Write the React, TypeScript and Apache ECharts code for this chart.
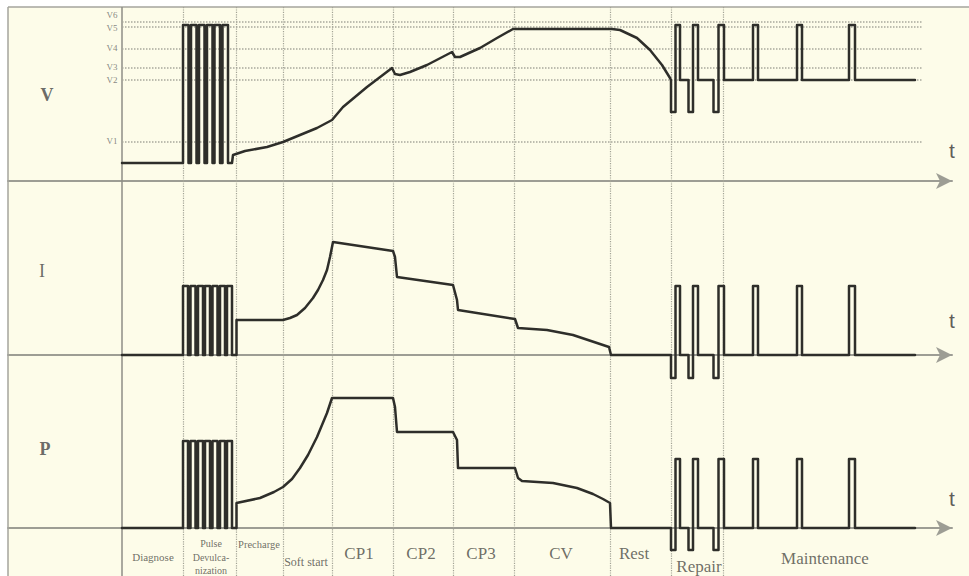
import React, { useEffect, useRef } from 'react';
import * as echarts from 'echarts';

// ---- time axis (arbitrary units), stage boundaries ----
const stageBounds = [61, 114, 161, 210, 271, 331, 392, 488, 549, 601];

// ---- V panel levels ----
const vLevelNames = ['V1', 'V2', 'V3', 'V4', 'V5', 'V6'];
const vLevelValues = [39, 101, 113, 132, 154, 159];
const vLevelLabelValues = [40, 101, 114, 133, 153, 166];

// ---- pulse desulfation ----
const vPulseOn = [61, 69, 77, 85, 92.5, 100.5];
const vPulseOff = [66.5, 74.5, 82.5, 90.5, 98, 106];
const ipPulseOn = [61, 68.5, 76, 83, 90.5, 98, 105];
const ipPulseOff = [66, 73.5, 81, 88, 95.5, 103, 110];
const vPulseLevels = [18, 156];
const iPulseLevels = [0, 69];
const pPulseLevels = [0, 87];

// ---- charging curves ----
const vCurve = [[110, 18], [111, 26], [123, 30], [145, 34], [161, 39], [178, 46], [195, 53], [210, 61], [221, 74], [245, 94], [270, 113], [273, 107], [278, 106], [288, 109], [305, 116], [330, 129], [333, 124], [338, 124], [358, 133], [375, 143], [391, 152], [490, 152], [498, 151], [515, 143], [528, 131], [540, 116], [548, 103], [549, 101]];
const iCurve = [[110, 0], [114.5, 0], [114.5, 35], [161, 35], [168, 37], [175, 40], [183, 47], [191, 57], [196, 65], [201, 75], [205, 85], [208, 98], [211, 113], [271, 104], [273, 98], [275, 78], [331, 70], [335, 55], [336, 45], [393, 36], [396, 27], [425, 25], [451, 20], [475, 12], [487, 8], [489, 0], [549, 0]];
const pCurve = [[110, 0], [114.5, 0], [114.5, 25], [138, 30], [152, 36], [161, 41], [170, 49], [178, 60], [186, 73], [195, 91], [205, 115], [210, 130], [271, 130], [273, 121], [275, 96], [331, 96], [335, 88], [336, 60], [393, 60], [396, 50], [400, 47], [431, 45], [455, 40], [471, 34], [481, 29], [488, 25], [489, 0], [549, 0]];

// ---- repair & maintenance pulses ----
const repairDown = [549, 566.5, 591.5];
const repairUp = [553.5, 571, 596.5];
const repairBack = [558, 576, 602];
const maintUp = [631, 675, 727];
const maintDown = [636, 680, 733];
const traceEnd = 793;
const vRepairLevels = [101, 69, 156];
const iRepairLevels = [0, -23, 69];
const pRepairLevels = [0, -22, 69];

// ---- texts ----
const panelNames = ['V', 'I', 'P'];
const panelNameT = [-75, -80, -77];
const panelNameV = [86, 84, 79];
const tLabelV = [31, 35, 30];
const stageLabelNames = ['Diagnose', 'Pulse\nDevulca-\nnization', 'Precharge', 'Soft start', 'CP1', 'CP2', 'CP3', 'CV', 'Rest', 'Repair', 'Maintenance'];
const stageLabelT = [31, 89, 137, 184, 237, 299, 359, 439, 512, 577, 703];
const stageLabelV = [-29, -29, -16, -34, -25, -25, -25, -25, -25, -38, -30];
const stageLabelSize = [11, 10, 10.5, 12, 17, 17, 17, 17, 17, 17, 17];

const SERIF = '"Liberation Serif", "DejaVu Serif", serif';
const LINE = '#2e2e2a';

function pulseTrain(on: number[], off: number[], levels: number[]) {
  const [lo, hi] = levels;
  const pts: number[][] = [[0, lo]];
  on.forEach((t, i) => {
    pts.push([t, lo], [t, hi], [off[i], hi], [off[i], lo]);
  });
  return pts;
}

function repairTrace(levels: number[]) {
  const [b, lo, hi] = levels;
  const pts: number[][] = [];
  repairDown.forEach((t, i) => {
    pts.push([t, b], [t, lo], [repairUp[i], lo], [repairUp[i], hi], [repairBack[i], hi], [repairBack[i], b]);
  });
  maintUp.forEach((t, i) => {
    pts.push([t, b], [t, hi], [maintDown[i], hi], [maintDown[i], b]);
  });
  pts.push([traceEnd, b]);
  return pts;
}

function stageMarkLine() {
  return {
    silent: true,
    symbol: ['none', 'none'],
    label: { show: false },
    lineStyle: { color: '#a3a396', type: 'dotted', width: 1.2 },
    data: stageBounds.map((x) => ({ xAxis: x })),
  };
}

function traceSeries(idx: number, data: number[][], extra: any = {}) {
  return {
    type: 'line',
    xAxisIndex: idx,
    yAxisIndex: idx,
    data,
    symbol: 'none',
    showSymbol: false,
    clip: false,
    silent: true,
    lineStyle: { color: LINE, width: 2.5, join: 'round', cap: 'round' },
    z: 5,
    ...extra,
  };
}

function labelSeries(idx: number, items: any[]) {
  return {
    type: 'scatter',
    xAxisIndex: idx,
    yAxisIndex: idx,
    symbolSize: 1,
    itemStyle: { color: 'rgba(0,0,0,0)' },
    silent: true,
    z: 6,
    data: items,
  };
}

export default function App() {
  const ref = useRef<HTMLDivElement>(null);
  useEffect(() => {
    if (!ref.current) return;
    const chart = echarts.init(ref.current, undefined, { renderer: 'svg' });

    const vData = [...pulseTrain(vPulseOn, vPulseOff, vPulseLevels), ...vCurve, ...repairTrace(vRepairLevels)];
    const iData = [...pulseTrain(ipPulseOn, ipPulseOff, iPulseLevels), ...iCurve, ...repairTrace(iRepairLevels)];
    const pData = [...pulseTrain(ipPulseOn, ipPulseOff, pPulseLevels), ...pCurve, ...repairTrace(pRepairLevels)];

    const panelItem = (i: number) => ({
      value: [panelNameT[i], panelNameV[i]],
      label: { show: true, position: 'inside', formatter: panelNames[i], fontFamily: SERIF, fontSize: 18, color: '#444', fontWeight: i === 1 ? 'normal' : 'bold' },
    });
    const tItem = (i: number) => ({
      value: [830, tLabelV[i]],
      label: { show: true, position: 'inside', formatter: 't', fontFamily: '"Liberation Sans", Arial, sans-serif', fontSize: 21, color: '#333' },
    });

    const vLabelItems = vLevelNames.map((n, i) => ({
      value: [-3, vLevelLabelValues[i]],
      label: { show: true, position: 'left', distance: 1, formatter: n, fontFamily: SERIF, fontSize: 9, color: '#666' },
    }));

    const stageItems = stageLabelNames.map((n, i) => ({
      value: [stageLabelT[i], stageLabelV[i]],
      label: { show: true, position: 'inside', formatter: n, fontFamily: SERIF, fontSize: stageLabelSize[i], lineHeight: i === 1 ? 13.5 : undefined, color: '#4a4a44', align: 'center' },
    }));

    const axisLine = {
      show: true,
      onZero: true,
      symbol: ['none', 'arrow'],
      symbolSize: [12, 16],
      lineStyle: { color: '#9d9d94', width: 2 },
    };

    const option: any = {
      animation: false,
      backgroundColor: '#ffffff',
      graphic: [
        { type: 'rect', shape: { x: 8, y: 7, width: 961, height: 569 }, style: { fill: '#fdfce9' }, z: -10, silent: true },
        { type: 'line', shape: { x1: 8, y1: 7, x2: 8, y2: 576 }, style: { stroke: '#a5a59c', lineWidth: 1.5 }, z: 1, silent: true },
        { type: 'line', shape: { x1: 8, y1: 7, x2: 969, y2: 7 }, style: { stroke: '#a5a59c', lineWidth: 1.5 }, z: 1, silent: true },
        { type: 'line', shape: { x1: 122, y1: 7, x2: 122, y2: 576 }, style: { stroke: '#8e8e86', lineWidth: 1.5 }, z: 1, silent: true },
      ],
      grid: [
        { left: 8, right: 17, top: 7, height: 174 },
        { left: 8, right: 17, top: 181, height: 174 },
        { left: 8, right: 17, top: 355, height: 221 },
      ],
      xAxis: [0, 1, 2].map((i) => ({
        gridIndex: i,
        type: 'value',
        min: -114,
        max: 830,
        axisLine,
        axisTick: { show: false },
        axisLabel: { show: false },
        splitLine: { show: false },
      })),
      yAxis: [
        { gridIndex: 0, type: 'value', min: 0, max: 174, show: false },
        { gridIndex: 1, type: 'value', min: 0, max: 174, show: false },
        { gridIndex: 2, type: 'value', min: -48, max: 173, show: false },
      ],
      series: [
        {
          type: 'line',
          xAxisIndex: 0,
          yAxisIndex: 0,
          data: [],
          symbol: 'none',
          silent: true,
          markLine: {
            silent: true,
            symbol: ['none', 'none'],
            label: { show: false },
            lineStyle: { color: '#a8a89c', type: 'dotted', width: 1.5 },
            data: vLevelValues.map((v) => [{ coord: [0, v] }, { coord: [801, v] }]),
          },
          z: 3,
        },
        traceSeries(0, vData, { markLine: stageMarkLine() }),
        traceSeries(1, iData, { markLine: stageMarkLine() }),
        traceSeries(2, pData, { markLine: stageMarkLine() }),
        labelSeries(0, [panelItem(0), tItem(0), ...vLabelItems]),
        labelSeries(1, [panelItem(1), tItem(1)]),
        labelSeries(2, [panelItem(2), tItem(2), ...stageItems]),
      ],
    };
    chart.setOption(option);
    return () => chart.dispose();
  }, []);
  return <div ref={ref} style={{ position: 'fixed', left: 0, top: 0, width: 969, height: 576 }} />;
}
